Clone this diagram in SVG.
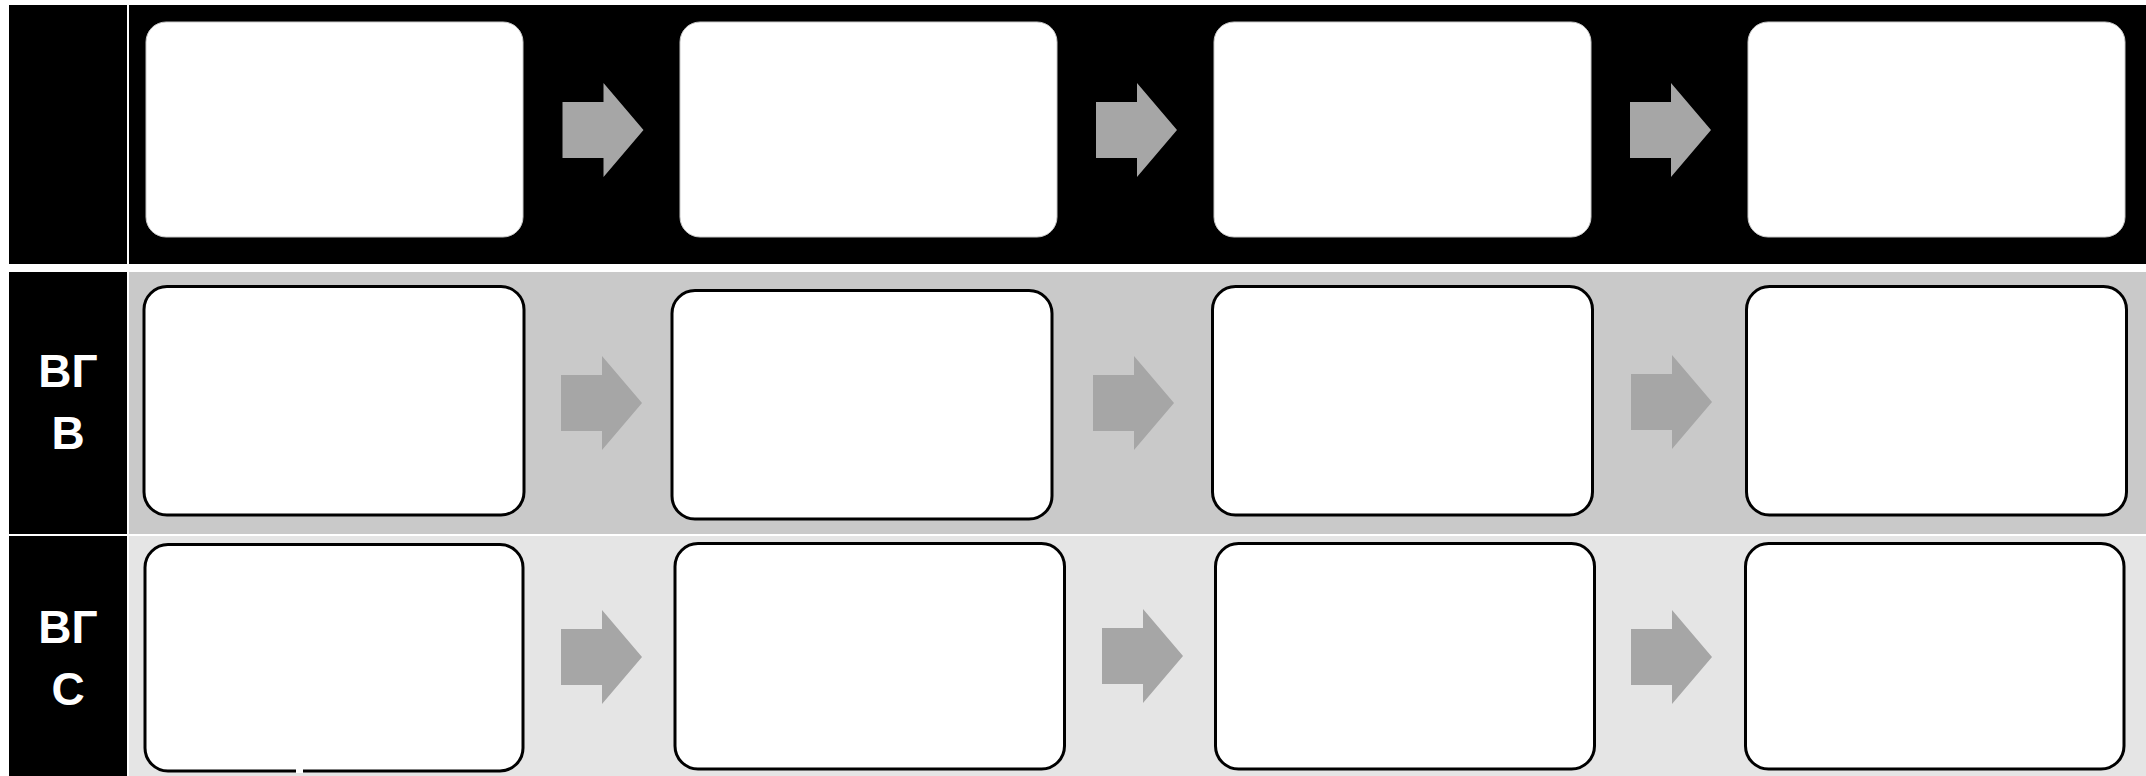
<svg xmlns="http://www.w3.org/2000/svg" width="2146" height="776" viewBox="0 0 2146 776">
<style>
.lab{fill:#000}
.lt{font-family:"Liberation Sans",Arial,sans-serif;font-weight:bold;font-size:46px;fill:#fff;text-anchor:middle}
.b1{fill:#fff;stroke:#c8c8c8;stroke-width:1}
.b2{fill:#fff;stroke:#000;stroke-width:3}
.ar{fill:#a6a6a6}
</style>
<defs>
<path id="arrow" d="M0,-28 H41 V-47 L81,0 L41,47 V28 H0 Z"/>
</defs>
<rect x="0" y="0" width="2146" height="776" fill="#fff"/>
<g id="bands">
<rect x="129" y="5" width="2017" height="259" fill="#000"/>
<rect x="129" y="272" width="2017" height="262" fill="#c9c9c9"/>
<rect x="129" y="536" width="2017" height="240" fill="#e5e5e5"/>
</g>
<g id="label-row1"><rect class="lab" x="9" y="5" width="118" height="259"/></g>
<g id="label-row2"><rect class="lab" x="9" y="272" width="118" height="262"/>
<text class="lt" x="68" y="387">ВГ</text><text class="lt" x="68" y="449">В</text></g>
<g id="label-row3"><rect class="lab" x="9" y="536" width="118" height="240"/>
<text class="lt" x="68" y="643">ВГ</text><text class="lt" x="68" y="705">С</text></g>
<g id="r1n1"><rect class="b1" x="146" y="22" width="377" height="215" rx="20"/></g>
<g id="r1n2"><rect class="b1" x="680" y="22" width="377" height="215" rx="20"/></g>
<g id="r1n3"><rect class="b1" x="1214" y="22" width="377" height="215" rx="20"/></g>
<g id="r1n4"><rect class="b1" x="1748" y="22" width="377" height="215" rx="20"/></g>
<g id="r2n1"><rect class="b2" x="144" y="286.5" width="380" height="228.5" rx="23"/></g>
<g id="r2n2"><rect class="b2" x="672" y="290.5" width="380" height="228.5" rx="23"/></g>
<g id="r2n3"><rect class="b2" x="1212.5" y="286.5" width="380" height="228.5" rx="23"/></g>
<g id="r2n4"><rect class="b2" x="1746.5" y="286.5" width="380" height="228.5" rx="23"/></g>
<g id="r3n1"><rect class="b2" x="145" y="544.5" width="378" height="226.5" rx="23"/><rect x="296" y="769" width="7" height="4" fill="#fff"/></g>
<g id="r3n2"><rect class="b2" x="675" y="543.5" width="389.5" height="225.5" rx="23"/></g>
<g id="r3n3"><rect class="b2" x="1215.5" y="543.5" width="379" height="225.5" rx="23"/></g>
<g id="r3n4"><rect class="b2" x="1745.5" y="543.5" width="378.5" height="225.5" rx="23"/></g>
<g id="connectors">
<use href="#arrow" class="ar" transform="translate(562.5,130)"/>
<use href="#arrow" class="ar" transform="translate(1096,130)"/>
<use href="#arrow" class="ar" transform="translate(1630,130)"/>
<use href="#arrow" class="ar" transform="translate(561,403)"/>
<use href="#arrow" class="ar" transform="translate(1093,403)"/>
<use href="#arrow" class="ar" transform="translate(1631,402)"/>
<use href="#arrow" class="ar" transform="translate(561,657)"/>
<use href="#arrow" class="ar" transform="translate(1102,656)"/>
<use href="#arrow" class="ar" transform="translate(1631,657)"/>
</g>
</svg>
